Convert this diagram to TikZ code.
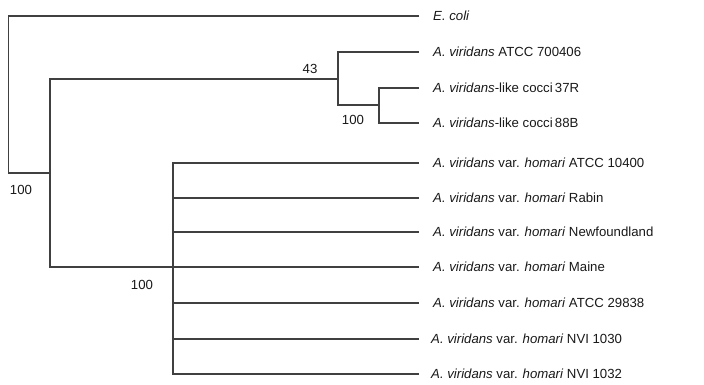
\documentclass[tikz,border=0pt]{standalone}
\usepackage{fontspec}
\setmainfont{Liberation Sans}
\begin{document}
\begin{tikzpicture}[x=1pt,y=-1pt,
  branch/.style={draw=black!75,line width=1.1pt},
  leaf/.style={anchor=west,inner sep=0pt,font=\fontsize{13.2}{15}\selectfont,text=black!90},
  boot/.style={inner sep=0pt,font=\fontsize{13.2}{15}\selectfont,text=black!90}]
\useasboundingbox (0,0) rectangle (704,384);
% internal nodes
\coordinate (root) at (8.5,95);
\coordinate (nB) at (50,173);
\coordinate (nC) at (338,79);
\coordinate (nD) at (379,105);
\coordinate (nE) at (173,267);
% leaf tips
\coordinate (t1) at (419,16);
\coordinate (t2) at (419,52);
\coordinate (t3) at (419,88);
\coordinate (t4) at (419,123);
\coordinate (t5) at (419,163);
\coordinate (t6) at (419,198);
\coordinate (t7) at (419,232);
\coordinate (t8) at (419,267);
\coordinate (t9) at (419,303);
\coordinate (t10) at (419,339);
\coordinate (t11) at (419,374);
% labels
\node[leaf] (l1) at (433,16) {\textit{E. coli}};
\node[leaf] (l2) at (433,52) {\textit{A. viridans} ATCC 700406};
\node[leaf] (l3) at (433,88) {\textit{A. viridans}-like cocci\,37R};
\node[leaf] (l4) at (433,123) {\textit{A. viridans}-like cocci\,88B};
\node[leaf] (l5) at (433,163) {\textit{A. viridans} var. \textit{homari} ATCC 10400};
\node[leaf] (l6) at (433,198) {\textit{A. viridans} var. \textit{homari} Rabin};
\node[leaf] (l7) at (433,232) {\textit{A. viridans} var. \textit{homari} Newfoundland};
\node[leaf] (l8) at (433,267) {\textit{A. viridans} var. \textit{homari} Maine};
\node[leaf] (l9) at (433,303) {\textit{A. viridans} var. \textit{homari} ATCC 29838};
\node[leaf] (l10) at (431,339) {\textit{A. viridans} var. \textit{homari} NVI 1030};
\node[leaf] (l11) at (431,374) {\textit{A. viridans} var. \textit{homari} NVI 1032};
% branches
\draw[branch] (t1) -| (root) |- (nB);
\draw[branch] (nC) -| (nB) |- (nE);
\draw[branch] (t2) -| (nC) |- (nD);
\draw[branch] (t3) -| (nD) |- (t4);
\draw[branch] (t5) -| (nE) |- (t11);
\draw[branch] (nE |- t6) -- (t6);
\draw[branch] (nE |- t7) -- (t7);
\draw[branch] (nE) -- (t8);
\draw[branch] (nE |- t9) -- (t9);
\draw[branch] (nE |- t10) -- (t10);
% bootstrap values
\node[boot] (b1) at (21,190) {100};
\node[boot] (b2) at (142,285) {100};
\node[boot] (b3) at (310,69) {43};
\node[boot] (b4) at (353,120) {100};
\end{tikzpicture}
\end{document}
